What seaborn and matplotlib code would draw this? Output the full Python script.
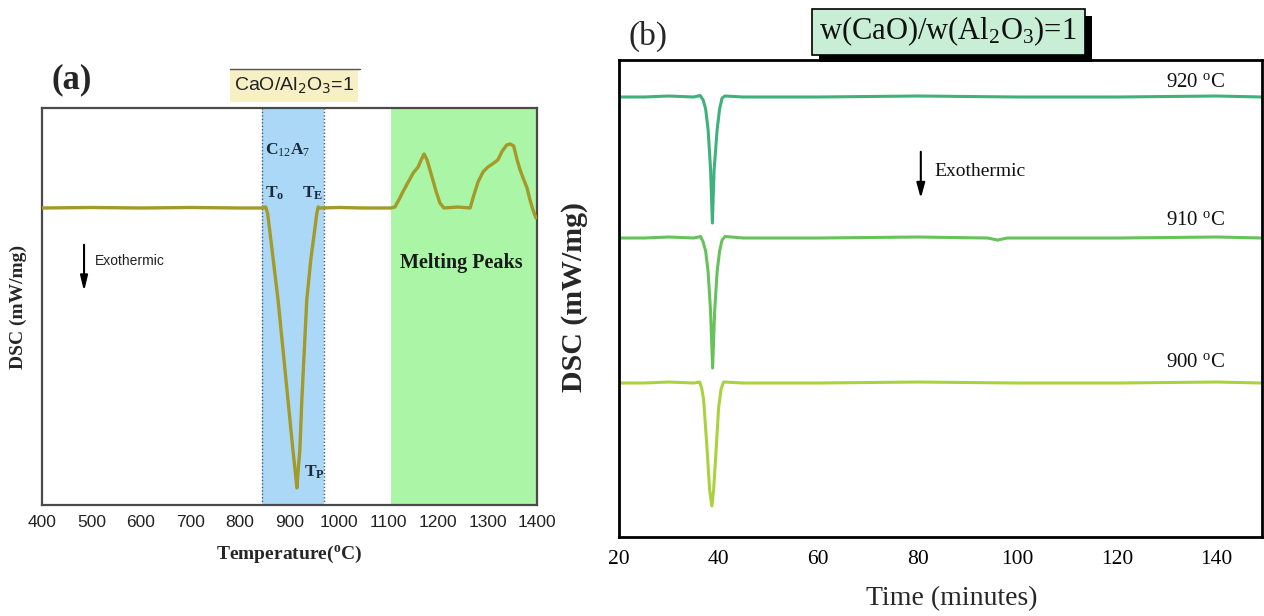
import matplotlib
matplotlib.use("Agg")
import matplotlib.pyplot as plt
import seaborn as sns
import pandas as pd
from matplotlib.patches import Rectangle
from matplotlib.lines import Line2D
from matplotlib.ticker import MultipleLocator

# ---------------- data: panel (a) ----------------
temp_a = [400, 500, 600, 700, 800, 845, 852, 856, 860, 868, 877, 887, 897, 907, 912,
          915, 918, 921, 925, 930, 935, 943, 951, 955, 958, 962, 1000, 1050, 1105,
          1113, 1122, 1129, 1140, 1150, 1160, 1166, 1172, 1178, 1188, 1196, 1204, 1212,
          1240, 1265, 1272, 1281, 1291, 1301, 1310, 1321, 1330, 1339, 1346, 1353, 1360,
          1366, 1372, 1380, 1386, 1392, 1398]
dsc_a = [0.0, 0.05, 0.0, 0.05, 0.0, 0.0, 0.1, -0.6, -2.2, -5.5, -9.2, -14.2, -19.2, -24.2, -26.5,
         -28.0, -26.0, -24.2, -19.2, -14.2, -9.2, -5.2, -2.2, -0.6, 0.1, 0.0, 0.05, 0.0, 0.0,
         0.1, 0.9, 1.6, 2.6, 3.5, 4.1, 4.8, 5.4, 4.8, 3.1, 1.7, 0.5, 0.0,
         0.1, 0.0, 1.2, 2.6, 3.6, 4.1, 4.4, 4.8, 5.7, 6.3, 6.4, 6.2, 4.8,
         3.8, 3.0, 2.0, 0.8, -0.2, -1.0]
xticks_a = [400, 500, 600, 700, 800, 900, 1000, 1100, 1200, 1300, 1400]
c12a7_range = [844, 970]
melting_range = [1105, 1400]

# ---------------- data: panel (b) ----------------
time_920 = [20, 25, 30, 35, 36.3, 36.9, 37.4, 37.9, 38.4, 38.75, 39.1, 39.7, 40.2, 40.7,
            41.3, 45, 60, 80, 100, 120, 140, 149.1]
dsc_920 = [44.0, 44.0, 44.1, 44.0, 44.15, 43.7, 42.8, 40.7, 36.7, 31.4, 36.7, 40.7, 42.8, 43.9,
           44.1, 44.0, 44.0, 44.1, 44.0, 44.0, 44.1, 44.0]
time_910 = [20, 25, 30, 35, 36.4, 36.9, 37.4, 37.9, 38.4, 38.8, 39.2, 39.7, 40.2, 40.7,
            41.3, 45, 60, 80, 94, 96, 98, 100, 120, 140, 149.1]
dsc_910 = [29.9, 29.9, 30.0, 29.9, 30.05, 29.5, 28.6, 26.5, 22.5, 16.9, 22.5, 26.5, 28.6, 29.7,
           30.05, 29.9, 29.9, 30.0, 29.9, 29.7, 29.9, 29.9, 29.9, 30.0, 29.9]
time_900 = [20, 25, 30, 35, 36.2, 36.6, 37.0, 37.7, 38.2, 38.65, 39.0, 39.5, 40.0, 40.5,
            41.0, 45, 60, 80, 100, 120, 140, 149.1]
dsc_900 = [15.4, 15.4, 15.5, 15.4, 15.5, 14.9, 13.7, 8.7, 4.7, 3.1, 4.7, 8.7, 12.9, 14.8,
           15.5, 15.4, 15.4, 15.5, 15.4, 15.4, 15.5, 15.4]
labels_b = ["920 $^{\\mathregular{o}}$C", "910 $^{\\mathregular{o}}$C", "900 $^{\\mathregular{o}}$C"]
colors_b = ["#3fb27c", "#66c25a", "#a9d33c"]
xticks_b = [20, 40, 60, 80, 100, 120, 140]

# ---------------- style ----------------
sns.set_style("white")
plt.rcParams["font.family"] = ["Liberation Serif", "DejaVu Serif"]
plt.rcParams["mathtext.fontset"] = "custom"
plt.rcParams["mathtext.rm"] = "Liberation Serif"
plt.rcParams["mathtext.it"] = "Liberation Serif:italic"
plt.rcParams["mathtext.bf"] = "Liberation Serif:bold"

fig = plt.figure(figsize=(12.64, 6.16), dpi=100)
fig.patch.set_facecolor("white")

# ================= panel (a) =================
axa = fig.add_axes([0.0332, 0.1802, 0.3916, 0.6445])
axa.axvspan(c12a7_range[0], c12a7_range[1], color="#aad8f6", lw=0, zorder=0)
axa.axvspan(melting_range[0], melting_range[1], color="#aaf5a6", lw=0, zorder=0)
for xv in c12a7_range:
    axa.axvline(xv, ls=(0, (1, 1.5)), color="#46566e", lw=1.0, zorder=1)

df_a = pd.DataFrame({"T": temp_a, "DSC": dsc_a})
sns.lineplot(data=df_a, x="T", y="DSC", ax=axa, color="#a39a2a", linewidth=2.4,
             sort=False, zorder=3)

axa.set_xlim(400, 1400)
axa.set_ylim(-29.7, 10.0)
axa.set_yticks([])
axa.set_xticks(xticks_a)
axa.xaxis.set_minor_locator(MultipleLocator(50))
axa.tick_params(axis="x", which="major", direction="in", length=6, width=1.3,
                labelsize=12.5, pad=7, colors="#333333", labelcolor="#222222")
axa.tick_params(axis="x", which="minor", direction="in", length=3, width=1.2, colors="#333333")
for lbl in axa.get_xticklabels():
    lbl.set_fontfamily("Liberation Sans")
for s in axa.spines.values():
    s.set_color("#4a4a4a")
    s.set_linewidth(1.6)
axa.set_xlabel("Temperature($^{\\mathregular{o}}$C)", fontsize=14, fontweight="bold")
axa.xaxis.set_label_coords(0.499, -0.098)
axa.set_ylabel("DSC (mW/mg)", fontsize=14, fontweight="bold")
axa.yaxis.set_label_coords(-0.030, 0.5)

axa.text(897, 5.8, "C$_{12}$A$_7$", fontsize=12.5, fontweight="bold", ha="center", va="center",
         color="#1a2a3a")
axa.text(871, 1.5, "T$_{\\mathregular{o}}$", fontsize=12.5, fontweight="bold", ha="center", va="center",
         color="#1a2a3a")
axa.text(947, 1.5, "T$_{\\mathregular{E}}$", fontsize=12.5, fontweight="bold", ha="center", va="center",
         color="#1a2a3a")
axa.text(950, -26.4, "T$_{\\mathregular{P}}$", fontsize=12.5, fontweight="bold", ha="center", va="center",
         color="#1a2a3a")
axa.text(1248, -5.5, "Melting Peaks", fontsize=14.5, fontweight="bold", ha="center", va="center",
         color="#1a1a1a")
axa.annotate("", xy=(485, -8.6), xytext=(485, -3.4),
             arrowprops=dict(arrowstyle="-|>,head_length=0.9,head_width=0.22",
                             color="black", lw=1.5))
axa.text(507, -5.3, "Exothermic", fontsize=10, ha="left", va="center",
         family="Liberation Sans", color="#222222")

# panel label + box
fig.text(72 / 1264, 1 - 80 / 616, "(a)", fontsize=25, fontweight="bold", ha="center", va="center")
fig.patches.append(Rectangle((230 / 1264, 1 - 102 / 616), 128 / 1264, 33 / 616,
                             transform=fig.transFigure, facecolor="#f7f0c4", edgecolor="none",
                             zorder=2))
fig.lines.append(Line2D([230 / 1264, 360 / 1264], [1 - 69 / 616, 1 - 69 / 616],
                        transform=fig.transFigure, color="#555555", lw=1.0, zorder=3))
fig.text(294 / 1264, 1 - 86 / 616, "CaO/Al$_2$O$_3$=1", fontsize=14, ha="center", va="center",
         family="Liberation Sans", math_fontfamily="dejavusans", color="#222222", zorder=4)

# ================= panel (b) =================
axb = fig.add_axes([0.4897, 0.1282, 0.5087, 0.7744])
df_b = pd.concat([
    pd.DataFrame({"time": time_920, "DSC": dsc_920, "curve": labels_b[0]}),
    pd.DataFrame({"time": time_910, "DSC": dsc_910, "curve": labels_b[1]}),
    pd.DataFrame({"time": time_900, "DSC": dsc_900, "curve": labels_b[2]}),
], ignore_index=True)
sns.lineplot(data=df_b, x="time", y="DSC", hue="curve", units="curve", estimator=None,
             palette=dict(zip(labels_b, colors_b)), ax=axb, linewidth=2.2, legend=False,
             sort=False)

axb.set_xlim(20, 149.1)
axb.set_ylim(0, 47.7)
axb.set_yticks([])
axb.set_xticks(xticks_b)
axb.xaxis.set_minor_locator(MultipleLocator(10))
axb.tick_params(axis="x", which="major", direction="in", length=8, width=1.6,
                labelsize=15.5, pad=9, colors="black")
axb.tick_params(axis="x", which="minor", direction="in", length=4, width=1.4)
for s in axb.spines.values():
    s.set_color("black")
    s.set_linewidth(2.0)
axb.set_xlabel("Time (minutes)", fontsize=20)
axb.xaxis.set_label_coords(0.518, -0.103)
axb.set_ylabel("DSC (mW/mg)", fontsize=21.5, fontweight="bold")
axb.yaxis.set_label_coords(-0.048, 0.503)

label_y = [45.4, 31.7, 17.5]
for lab, yv in zip(labels_b, label_y):
    axb.text(135.7, yv, lab, fontsize=15, ha="center", va="center", color="#111111")

axb.annotate("", xy=(80.6, 33.6), xytext=(80.6, 38.8),
             arrowprops=dict(arrowstyle="-|>,head_length=0.9,head_width=0.25",
                             color="black", lw=1.5))
axb.text(83.3, 36.6, "Exothermic", fontsize=14, ha="left", va="center", color="#111111")

fig.text(648 / 1264, 1 - 36 / 616, "(b)", fontsize=24, ha="center", va="center")
# shadowed title box
fig.patches.append(Rectangle((819 / 1264, 1 - 62 / 616), 273 / 1264, 46 / 616,
                             transform=fig.transFigure, facecolor="black", edgecolor="none",
                             zorder=2))
fig.patches.append(Rectangle((812 / 1264, 1 - 55 / 616), 273 / 1264, 46 / 616,
                             transform=fig.transFigure, facecolor="#c8efd6", edgecolor="black",
                             lw=1.2, zorder=3))
fig.text(948 / 1264, 1 - 31 / 616, "w(CaO)/w(Al$_2$O$_3$)=1", fontsize=22, ha="center",
         va="center", color="#111111", zorder=4)

fig.savefig("out.png", dpi=100, facecolor="white")
